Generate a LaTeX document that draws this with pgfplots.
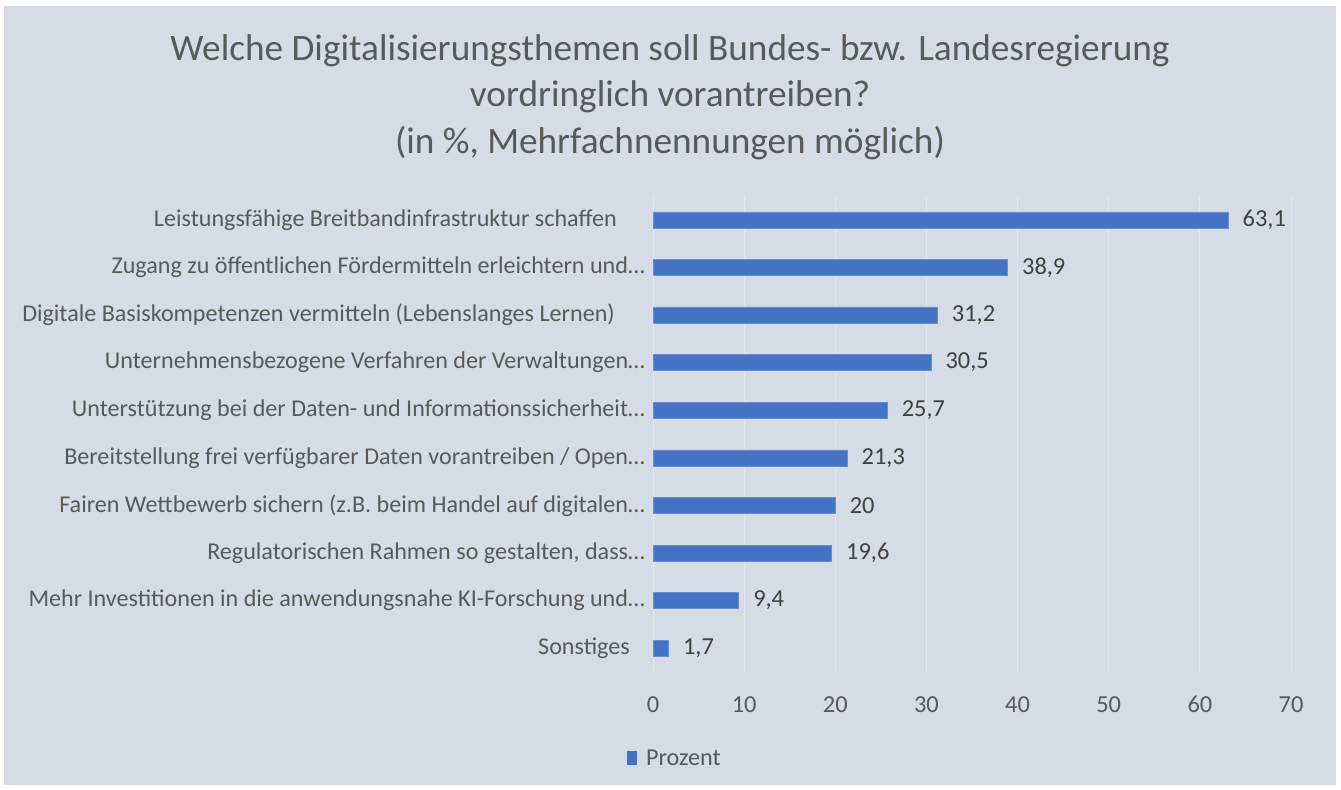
\documentclass[border=0pt]{standalone}
\usepackage{pgfplots}
\pgfplotsset{compat=1.18}
\usepackage{fontspec}
\setmainfont{Carlito}
\definecolor{bg}{RGB}{214,220,229}
\definecolor{barblue}{RGB}{68,114,196}
\definecolor{titlegray}{RGB}{89,89,89}
\definecolor{labgray}{RGB}{89,89,89}
\definecolor{datagray}{RGB}{64,64,64}
\definecolor{gridc}{RGB}{226,229,234}
\begin{document}
\begin{tikzpicture}[x=1bp,y=1bp]
\fill[white] (0,0) rectangle (1341,789);
\fill[bg] (4,4) rectangle (1336,783);
\node[align=center, text=titlegray, font=\fontsize{37.4}{46.5}\selectfont] at (670,692) {Welche Digitalisierungsthemen soll Bundes- bzw. Landesregierung\\vordringlich vorantreiben?\\(in \%, Mehrfachnennungen möglich)};
\begin{axis}[
  at={(653bp,117bp)}, anchor=south west,
  scale only axis, width=638bp, height=476bp,
  xbar, bar width=16bp,
  xmin=0, xmax=70, xtick={0,10,...,70},
  ymin=-0.5, ymax=9.5, y dir=reverse,
  ytick={0,...,9},
  yticklabels={
    {Leistungsfähige Breitbandinfrastruktur schaffen\kern28bp},
    {Zugang zu öffentlichen Fördermitteln erleichtern und…},
    {Digitale Basiskompetenzen vermitteln (Lebenslanges Lernen)\kern30bp},
    {Unternehmensbezogene Verfahren der Verwaltungen…},
    {Unterstützung bei der Daten- und Informationssicherheit…},
    {Bereitstellung frei verfügbarer Daten vorantreiben / Open…},
    {Fairen Wettbewerb sichern (z.B. beim Handel auf digitalen…},
    {Regulatorischen Rahmen so gestalten, dass…},
    {Mehr Investitionen in die anwendungsnahe KI-Forschung und…},
    {Sonstiges\kern15bp}},
  axis line style={draw=none},
  major tick length=0pt,
  xmajorgrids, grid style={draw=gridc, line width=1bp},
  ymajorgrids=false,
  /pgf/number format/assume math mode=true,
  yticklabel style={font=\fontsize{24.2}{26}\selectfont, text=labgray, inner sep=0pt, xshift=-8bp},
  xticklabel style={font=\fontsize{24.5}{26}\selectfont, text=labgray, inner sep=0pt, yshift=-24bp},
  nodes near coords,
  nodes near coords style={font=\fontsize{24.5}{26}\selectfont, text=datagray, anchor=west, xshift=11bp,
    /pgf/number format/.cd, use comma, fixed, assume math mode=true},
  legend style={at={(0.034,-0.181)}, anchor=center, draw=none, fill=none,
    font=\fontsize{24.3}{26}\selectfont, text=labgray, inner sep=0pt},
  legend image code/.code={\fill[barblue] (0bp,-6.5bp) rectangle (9bp,6.5bp); \path (17bp,0bp);},
  clip=false,
]
\addplot[fill=barblue, draw=barblue!80!white, line width=0.5bp] coordinates {
(63.1,0) (38.9,1) (31.2,2) (30.5,3) (25.7,4) (21.3,5) (20,6) (19.6,7) (9.4,8) (1.7,9)};
\addlegendentry{Prozent}
\end{axis}
\end{tikzpicture}
\end{document}
